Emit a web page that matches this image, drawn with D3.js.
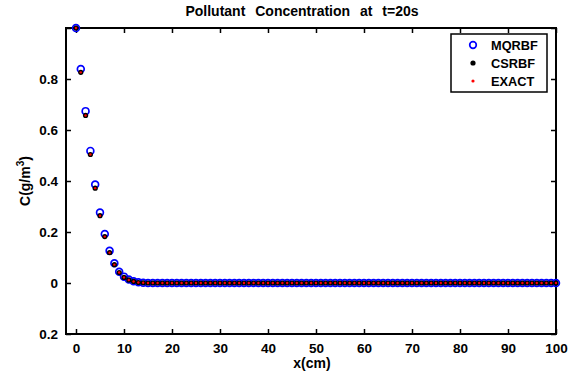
<!DOCTYPE html>
<html>
<head>
<meta charset="utf-8">
<script src="https://cdn.jsdelivr.net/npm/d3@7"></script>
<style>
  body { margin: 0; background: #fff; }
  text { font-family: "Liberation Sans", Arial, sans-serif; font-weight: bold; }
</style>
</head>
<body>
<svg id="chart" width="573" height="374"></svg>
<script>
// x positions 0..100 (step 1)
const xs = d3.range(0, 101);

// values for x = 0..14, the rest is zero
const mqrbfHead = [1.0, 0.839, 0.674, 0.518, 0.386, 0.276, 0.192, 0.126, 0.077, 0.044, 0.025, 0.014, 0.007, 0.003, 0.001];
const csrbfHead = [1.0, 0.826, 0.657, 0.504, 0.372, 0.264, 0.182, 0.119, 0.072, 0.041, 0.022, 0.012, 0.006, 0.002, 0.001];
const exactHead = [1.0, 0.826, 0.657, 0.504, 0.372, 0.264, 0.182, 0.119, 0.072, 0.041, 0.022, 0.012, 0.006, 0.002, 0.001];

const mqrbf = xs.map(i => i < mqrbfHead.length ? mqrbfHead[i] : 0);
const csrbf = xs.map(i => i < csrbfHead.length ? csrbfHead[i] : 0);
const exact = xs.map(i => i < exactHead.length ? exactHead[i] : 0);

const xTicks = [0, 10, 20, 30, 40, 50, 60, 70, 80, 90, 100];
const yTicks = [-0.2, 0, 0.2, 0.4, 0.6, 0.8, 1];
const yTickLabels = ["0.2", "0", "0.2", "0.4", "0.6", "0.8", ""];

const legendNames = ["MQRBF", "CSRBF", "EXACT"];

const svg = d3.select("#chart");
const pL = 66, pR = 556, pT = 28, pB = 334;

const x = d3.scaleLinear().domain([-2.08, 100]).range([pL, pR]);
const y = d3.scaleLinear().domain([-0.2, 1]).range([pB, pT]);

// frame
svg.append("rect")
  .attr("x", pL).attr("y", pT)
  .attr("width", pR - pL).attr("height", pB - pT)
  .attr("fill", "none").attr("stroke", "#000").attr("stroke-width", 2);

// axes (ticks inside)
const styleAxis = g => {
  g.select(".domain").remove();
  g.selectAll(".tick line").attr("stroke", "#000").attr("stroke-width", 1.5);
  g.selectAll(".tick text").attr("fill", "#000").style("font-size", "13.5px");
};

svg.append("g").attr("transform", `translate(0,${pB})`)
  .call(d3.axisBottom(x).tickValues(xTicks).tickSizeInner(-5).tickPadding(9))
  .call(styleAxis);
svg.append("g").attr("transform", `translate(0,${pT})`)
  .call(d3.axisTop(x).tickValues(xTicks).tickSizeInner(-5).tickFormat(""))
  .call(styleAxis);
svg.append("g").attr("transform", `translate(${pL},0)`)
  .call(d3.axisLeft(y).tickValues(yTicks).tickSizeInner(-5).tickPadding(8)
    .tickFormat((d, i) => yTickLabels[i]))
  .call(styleAxis);
svg.append("g").attr("transform", `translate(${pR},0)`)
  .call(d3.axisRight(y).tickValues(yTicks).tickSizeInner(-5).tickFormat(""))
  .call(styleAxis);

// points
const plot = svg.append("g");
plot.selectAll("circle.mq").data(xs).enter().append("circle")
  .attr("cx", d => x(d)).attr("cy", (d, i) => y(mqrbf[i]))
  .attr("r", 3.4).attr("fill", "none").attr("stroke", "#0000ff").attr("stroke-width", 1.7);
plot.selectAll("circle.cs").data(xs).enter().append("circle")
  .attr("cx", d => x(d)).attr("cy", (d, i) => y(csrbf[i]))
  .attr("r", 2.6).attr("fill", "#000");
plot.selectAll("circle.ex").data(xs).enter().append("circle")
  .attr("cx", d => x(d)).attr("cy", (d, i) => y(exact[i]))
  .attr("r", 1.2).attr("fill", "#ff0000");

// legend
const lg = svg.append("g");
lg.append("rect").attr("x", 451).attr("y", 34).attr("width", 96).attr("height", 58)
  .attr("fill", "#fff").attr("stroke", "#000").attr("stroke-width", 1.5);
const rows = [45, 63, 81];
lg.append("circle").attr("cx", 473).attr("cy", rows[0]).attr("r", 3.3)
  .attr("fill", "none").attr("stroke", "#0000ff").attr("stroke-width", 1.7);
lg.append("circle").attr("cx", 473).attr("cy", rows[1]).attr("r", 2.6).attr("fill", "#000");
lg.append("circle").attr("cx", 473).attr("cy", rows[2]).attr("r", 1.6).attr("fill", "#ff0000");
lg.selectAll("text.lg").data(legendNames).enter().append("text")
  .attr("x", 491).attr("y", (d, i) => rows[i]).attr("dy", "0.36em")
  .style("font-size", "12.8px").text(d => d);

// titles
svg.append("text").attr("x", 302).attr("y", 16).attr("text-anchor", "middle")
  .style("font-size", "14px").style("word-spacing", "6px")
  .text("Pollutant Concentration at t=20s");
svg.append("text").attr("x", 312).attr("y", 368).attr("text-anchor", "middle")
  .style("font-size", "14px").text("x(cm)");
svg.append("text").attr("transform", "translate(30,181) rotate(-90)")
  .attr("text-anchor", "middle").style("font-size", "14px")
  .html('C(g/m<tspan dy="-6" font-size="10px">3</tspan><tspan dy="6">)</tspan>');
</script>
</body>
</html>
